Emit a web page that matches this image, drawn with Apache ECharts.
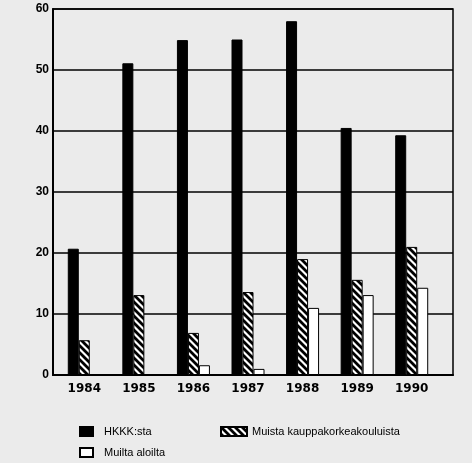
<!DOCTYPE html>
<html><head><meta charset="utf-8">
<script src="https://cdn.jsdelivr.net/npm/echarts@6/dist/echarts.min.js"></script>
<style>html,body{margin:0;padding:0;background:#ebebeb}#c{width:472px;height:463px}</style>
</head><body><div id="c"></div>
<script>
const years = ['1984','1985','1986','1987','1988','1989','1990'];
const hkkk = [20.7, 51.1, 54.9, 55.0, 58.0, 40.5, 39.3];
const muistaKauppa = [5.7, 13.1, 6.9, 13.6, 19.0, 15.6, 21.0];
const muiltaAloilta = [0, 0, 1.6, 1.0, 11.0, 13.1, 14.3];
const yTicks = [0, 10, 20, 30, 40, 50, 60];
const seriesNames = ['HKKK:sta', 'Muista kauppakorkeakouluista', 'Muilta aloilta'];

// hatch pattern "\\\"
const P = 7;
const pc = document.createElement('canvas');
pc.width = P; pc.height = P;
const g = pc.getContext('2d');
g.fillStyle = '#fff'; g.fillRect(0,0,P,P);
g.strokeStyle = '#000'; g.lineWidth = 2.8;
g.beginPath();
g.moveTo(-P,-P); g.lineTo(2*P,2*P);
g.moveTo(-P,0); g.lineTo(P,2*P);
g.moveTo(0,-P); g.lineTo(2*P,P);
g.stroke();
const hatch = {image: pc, repeat: 'repeat'};

const chart = echarts.init(document.getElementById('c'), null, {renderer:'canvas'});
const yMax = yTicks[yTicks.length-1];
const legText = {fontFamily: 'Liberation Sans', fontSize: 11, color: '#000'};
chart.setOption({
  backgroundColor: '#ebebeb',
  animation: false,
  grid: [
    {left: 53, right: 19, top: 9, bottom: 88, show: true, borderColor: '#000', borderWidth: 1.5, backgroundColor: 'transparent'},
    {left: 57, right: 33, top: 9, bottom: 88}
  ],
  xAxis: [
    {gridIndex: 0, type: 'value', min: 0, max: 1, axisLine: {show: true, onZero: false, lineStyle: {color: '#000', width: 2}},
     axisTick: {show: false}, axisLabel: {show: false}, splitLine: {show: false}},
    {gridIndex: 1, type: 'category', data: years, axisLine: {show: false}, axisTick: {show: false},
     axisLabel: {color: '#000', fontFamily: 'DejaVu Sans', fontWeight: 'bold', fontSize: 12, margin: 8}}
  ],
  yAxis: [
    {gridIndex: 0, type: 'value', min: 0, max: yMax, interval: 10,
     axisLine: {show: true, lineStyle: {color: '#000', width: 2}}, axisTick: {show: false},
     axisLabel: {color: '#000', fontFamily: 'Liberation Sans', fontWeight: 'bold', fontSize: 12, margin: 4},
     splitLine: {show: true, lineStyle: {color: '#000', width: 1.5}}},
    {gridIndex: 1, type: 'value', min: 0, max: yMax, show: false}
  ],
  legend: [
    {data: [seriesNames[0]], left: 79, top: 426, padding: 0, icon: 'rect', itemWidth: 13, itemHeight: 9,
     textStyle: Object.assign({padding: [0,0,0,6]}, legText)},
    {data: [seriesNames[1]], left: 220, top: 426, padding: 0, icon: 'rect', itemWidth: 26, itemHeight: 9,
     textStyle: legText},
    {data: [seriesNames[2]], left: 79, top: 447, padding: 0, icon: 'rect', itemWidth: 13, itemHeight: 9,
     textStyle: Object.assign({padding: [0,0,0,6]}, legText)}
  ],
  series: [
    {name: seriesNames[0], type: 'bar', xAxisIndex: 1, yAxisIndex: 1, data: hkkk, barWidth: 11, barGap: '0%',
     itemStyle: {color: '#000', borderColor: '#000', borderWidth: 1}},
    {name: seriesNames[1], type: 'bar', xAxisIndex: 1, yAxisIndex: 1, data: muistaKauppa, barWidth: 11, barGap: '0%',
     itemStyle: {color: hatch, borderColor: '#000', borderWidth: 1}},
    {name: seriesNames[2], type: 'bar', xAxisIndex: 1, yAxisIndex: 1, data: muiltaAloilta, barWidth: 11, barGap: '0%',
     itemStyle: {color: '#fff', borderColor: '#000', borderWidth: 1}}
  ]
});
</script></body></html>
